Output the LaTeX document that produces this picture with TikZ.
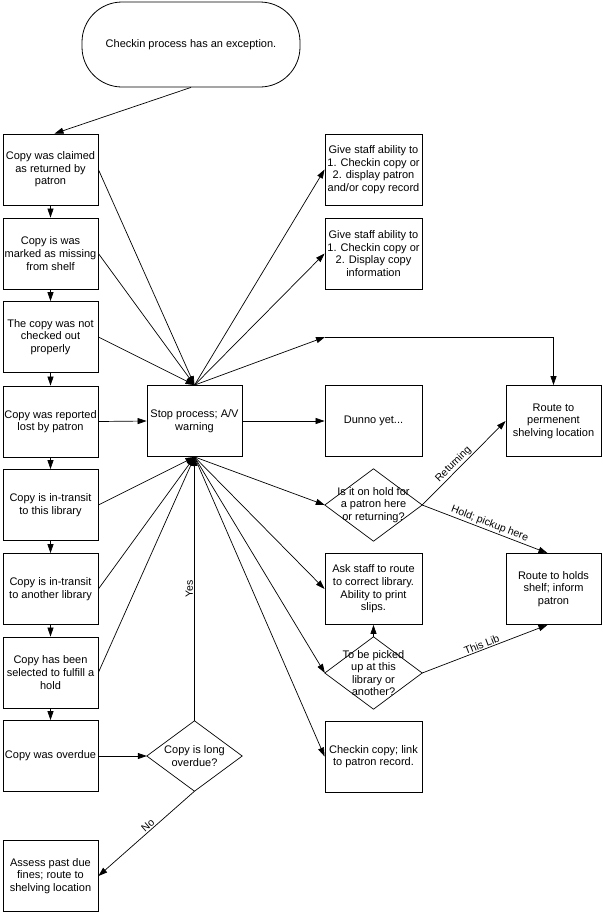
\documentclass[tikz,border=0pt]{standalone}
\usepackage{fontspec}
\setmainfont{Liberation Sans}
\usetikzlibrary{arrows.meta}
\begin{document}
\begin{tikzpicture}[x=1pt,y=-1pt,
  every node/.style={font=\fontsize{11}{12.6}\selectfont},
  box/.style={draw,line width=0.8pt,minimum width=95pt,minimum height=71pt,inner sep=0pt,align=center},
  dia/.style={minimum width=97pt,minimum height=72pt,inner sep=0pt,align=center},
  conn/.style={line width=0.7pt,-{Triangle[length=9pt,width=6pt]}},
  plain/.style={line width=0.7pt},
  lbl/.style={sloped,above,inner sep=1.2pt,font=\fontsize{10.5}{12}\selectfont}]
\useasboundingbox (0,0) rectangle (603,914);
% start
\node[draw,line width=0.8pt,minimum width=218pt,minimum height=85pt,rounded corners=40pt] (start) at (191,44.5) {Checkin process has an exception.};
% left column
\node[box] (b1) at (50.5,169.5) {Copy was claimed\\as returned by\\patron};
\node[box] (b2) at (50.5,253.5) {Copy is was\\marked as missing\\from shelf};
\node[box] (b3) at (50.5,337) {The copy was not\\checked out\\properly};
\node[box] (b4) at (50.5,421.5) {Copy was reported\\lost by patron};
\node[box] (b5) at (50.5,505) {Copy is in-transit\\to this library};
\node[box] (b6) at (50.5,589) {Copy is in-transit\\to another library};
\node[box] (b7) at (50.5,672.5) {Copy has been\\selected to fulfill a\\hold};
\node[box] (b8) at (50.5,756) {Copy was overdue};
\node[box] (b9) at (50.5,876) {Assess past due\\fines; route to\\shelving location};
% middle
\node[box] (stop) at (194.5,421) {Stop process; A/V\\warning};
\node[dia,minimum width=95pt,minimum height=70pt] (d3) at (194.5,756) {Copy is long\\overdue?};
\draw[plain] (d3.north) -- (d3.east) -- (d3.south) -- (d3.west) -- cycle;
% right middle column
\node[box,minimum width=97pt] (g1) at (373.5,169.5) {Give staff ability to\\1. Checkin copy or\\2. display patron\\and/or copy record};
\node[box,minimum width=97pt] (g2) at (373.5,253.5) {Give staff ability to\\1. Checkin copy or\\2. Display copy\\information};
\coordinate (turn) at (325,337);
\node[box,minimum width=97pt] (dunno) at (373.5,421) {Dunno yet...};
\node[dia] (d1) at (373.5,505) {Is it on hold for\\a patron here\\or returning?};
\draw[plain] (d1.north) -- (d1.east) -- (d1.south) -- (d1.west) -- cycle;
\node[box,minimum width=97pt] (ask) at (373.5,589) {Ask staff to route\\to correct library.\\Ability to print\\slips.};
\node[dia] (d2) at (373.5,673) {To be picked\\up at this\\library or\\another?};
\draw[plain] (d2.north) -- (d2.east) -- (d2.south) -- (d2.west) -- cycle;
\node[box,minimum width=97pt] (chk) at (373.5,756.5) {Checkin copy; link\\to patron record.};
% right column
\node[box] (perm) at (553.5,421) {Route to\\permenent\\shelving location};
\node[box] (holds) at (553.5,589) {Route to holds\\shelf; inform\\patron};
% connectors
\draw[conn] (start.south) -- ([xshift=4pt]b1.north);
\draw[conn] (b1.south) -- (b2.north);
\draw[conn] (b2.south) -- (b3.north);
\draw[conn] (b3.south) -- (b4.north);
\draw[conn] (b4.south) -- (b5.north);
\draw[conn] (b5.south) -- (b6.north);
\draw[conn] (b6.south) -- (b7.north);
\draw[conn] (b7.south) -- (b8.north);
\draw[conn] (b1.east) -- (stop.north);
\draw[conn] (b2.east) -- (stop.north);
\draw[conn] (b3.east) -- (stop.north);
\draw[conn] (b4.east) -- (stop.west);
\draw[conn] (b5.east) -- (stop.south);
\draw[conn] (b6.east) -- (stop.south);
\draw[conn] (b7.east) -- (stop.south);
\draw[conn] (b8.east) -- (d3.west);
\draw[conn] (d3.north) -- node[lbl,pos=0.5]{Yes} (stop.south);
\draw[conn] (d3.south) -- node[lbl,pos=0.45]{No} (b9.east);
\draw[conn] (stop.north) -- (g1.west);
\draw[conn] (stop.north) -- (g2.west);
\draw[conn] (stop.north) -- (turn);
\draw[conn] (turn) -| (perm.north);
\draw[conn] (stop.east) -- (dunno.west);
\draw[conn] (stop.south) -- (d1.west);
\draw[conn] (stop.south) -- (ask.west);
\draw[conn] (stop.south) -- (d2.west);
\draw[conn] (stop.south) -- (chk.west);
\draw[conn] (d1.east) -- node[lbl,pos=0.43]{Returning} (perm.west);
\draw[conn] (d1.east) -- node[lbl,pos=0.52]{Hold; pickup here} ([xshift=-6pt]holds.north);
\draw[conn] (d2.north) -- (ask.south);
\draw[conn] (d2.east) -- node[lbl,pos=0.49]{This Lib} ([xshift=-6pt]holds.south);
\end{tikzpicture}
\end{document}
